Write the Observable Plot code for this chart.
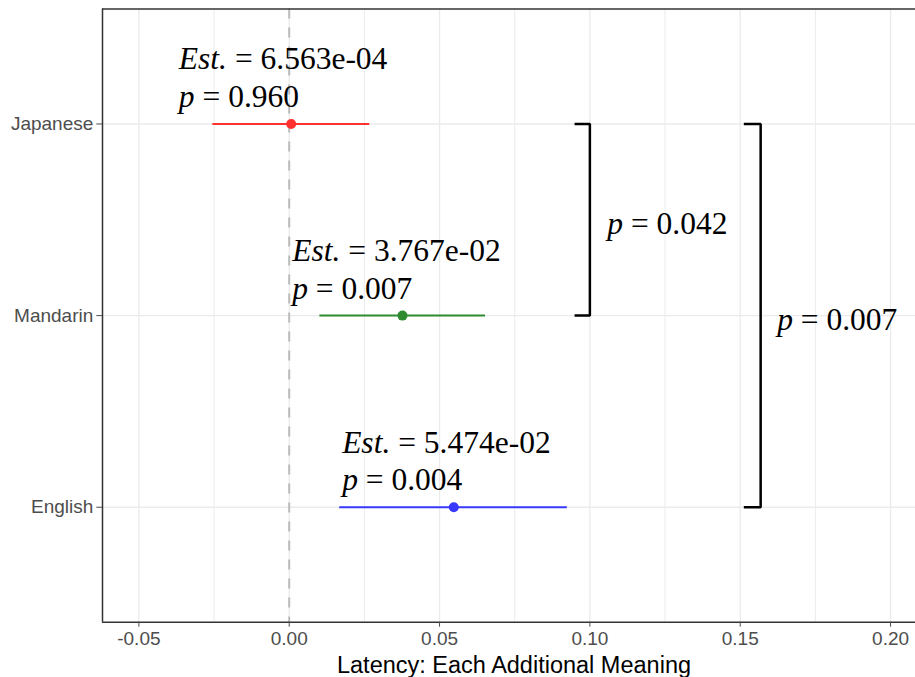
<!DOCTYPE html>
<html><head><meta charset="utf-8">
<script src="https://cdn.jsdelivr.net/npm/d3@7"></script>
<script src="https://cdn.jsdelivr.net/npm/@observablehq/plot@0.6"></script>
<style>body{margin:0;background:#fff;overflow:hidden}</style>
</head><body><div id="chart"></div>
<script>
// ---- data ----
const languages = ["Japanese", "Mandarin", "English"];
const rowPos = [3, 2, 1];
const estimates = [6.563e-04, 3.767e-02, 5.474e-02];
const estText = ["6.563e-04", "3.767e-02", "5.474e-02"];
const ciLow = [-0.0254, 0.0102, 0.0168];
const ciHigh = [0.0268, 0.0653, 0.0925];
const pText = ["0.960", "0.007", "0.004"];
const labelX = [-0.0367, 0.0010, 0.0176];
const colors = ["#FF3030", "#2E8B30", "#3838FF"];
const xTicks = [-0.05, 0.00, 0.05, 0.10, 0.15, 0.20];
const xMinor = [-0.025, 0.025, 0.075, 0.125, 0.175];
const compFrom = ["Japanese", "Japanese"];
const compTo = ["Mandarin", "English"];
const compP = ["0.042", "0.007"];
const compX = [0.1000, 0.1568];
const compArm = [0.0949, 0.1512];
const compLabelX = [0.1058, 0.1623];
const xTitle = "Latency: Each Additional Meaning";

// ---- tables ----
const pos = name => rowPos[languages.indexOf(name)];
const rows = languages.map((l, i) => ({lang: l, y: rowPos[i], est: estimates[i], lo: ciLow[i], hi: ciHigh[i],
  label: `Est. = ${estText[i]}\np = ${pText[i]}`, lx: labelX[i], color: colors[i]}));
const brackets = [];
compFrom.forEach((f, i) => {
  const y1 = pos(f), y2 = pos(compTo[i]);
  brackets.push({k: i, x: compArm[i], y: y1}, {k: i, x: compX[i], y: y1}, {k: i, x: compX[i], y: y2}, {k: i, x: compArm[i], y: y2});
});
const compLabels = compFrom.map((f, i) => ({x: compLabelX[i], y: (pos(f) + pos(compTo[i])) / 2, text: `p = ${compP[i]}`}));

const xDomain = [-0.0621, 0.2083];
const yDomain = [0.4, 3.6];

const chart = Plot.plot({
  width: 915, height: 677,
  marginLeft: 102, marginRight: 0, marginTop: 8.5, marginBottom: 55.3,
  style: {fontFamily: "Liberation Sans", background: "white"},
  x: {domain: xDomain},
  y: {domain: yDomain},
  marks: [
    Plot.ruleX(xMinor, {stroke: "#EBEBEB", strokeWidth: 1}),
    Plot.ruleX(xTicks, {stroke: "#EBEBEB", strokeWidth: 1.3}),
    Plot.ruleY(rowPos, {stroke: "#EBEBEB", strokeWidth: 1.3}),
    Plot.ruleX([0], {stroke: "#BBBBBB", strokeWidth: 2, strokeDasharray: "10,9"}),
    Plot.ruleX([xDomain[0]], {stroke: "#333333", strokeWidth: 1.5}),
    Plot.ruleY(yDomain, {stroke: "#333333", strokeWidth: 1.5}),
    Plot.axisX({ticks: xTicks, tickFormat: d => d.toFixed(2), tickSize: 5, tickPadding: 4, fontSize: 19, color: "#4D4D4D", label: null}),
    Plot.axisY({ticks: rowPos, tickFormat: v => languages[rowPos.indexOf(v)], tickSize: 5.7, tickPadding: 3.5, fontSize: 19, color: "#4D4D4D", label: null}),
    Plot.text([xTitle], {frameAnchor: "bottom", lineAnchor: "top", dy: 34.5, dx: 5, fontSize: 23.5, fill: "black"}),
    Plot.ruleY(rows, {y: "y", x1: "lo", x2: "hi", stroke: "color", strokeWidth: 2}),
    Plot.dot(rows, {x: "est", y: "y", r: 5, fill: "color", stroke: "none"}),
    Plot.text(rows, {x: "lx", y: "y", text: "label", textAnchor: "start", lineAnchor: "bottom", dy: -17, lineHeight: 1.19,
      fontSize: 31.5, fontFamily: "Liberation Serif", fill: "black"}),
    Plot.line(brackets, {x: "x", y: "y", z: "k", stroke: "black", strokeWidth: 2.5, strokeLinejoin: "miter", strokeLinecap: "butt"}),
    Plot.text(compLabels, {x: "x", y: "y", text: "text", textAnchor: "start", lineAnchor: "middle", dy: 4,
      fontSize: 31.5, fontFamily: "Liberation Serif", fill: "black"})
  ]
});

// italicize "Est." and "p" in the annotation texts
const NS = "http://www.w3.org/2000/svg";
function italicize(el) {
  if (el.children.length) return;
  const m = el.textContent.match(/^(Est\.|p)( = .*)$/);
  if (!m) return;
  el.textContent = "";
  const it = document.createElementNS(NS, "tspan");
  it.setAttribute("font-style", "italic");
  it.textContent = m[1];
  el.appendChild(it);
  el.appendChild(document.createTextNode(m[2]));
}
chart.querySelectorAll("text").forEach(t => {
  const tsp = t.querySelectorAll("tspan");
  if (tsp.length) tsp.forEach(italicize); else italicize(t);
});

document.getElementById("chart").appendChild(chart);
</script>
</body></html>
